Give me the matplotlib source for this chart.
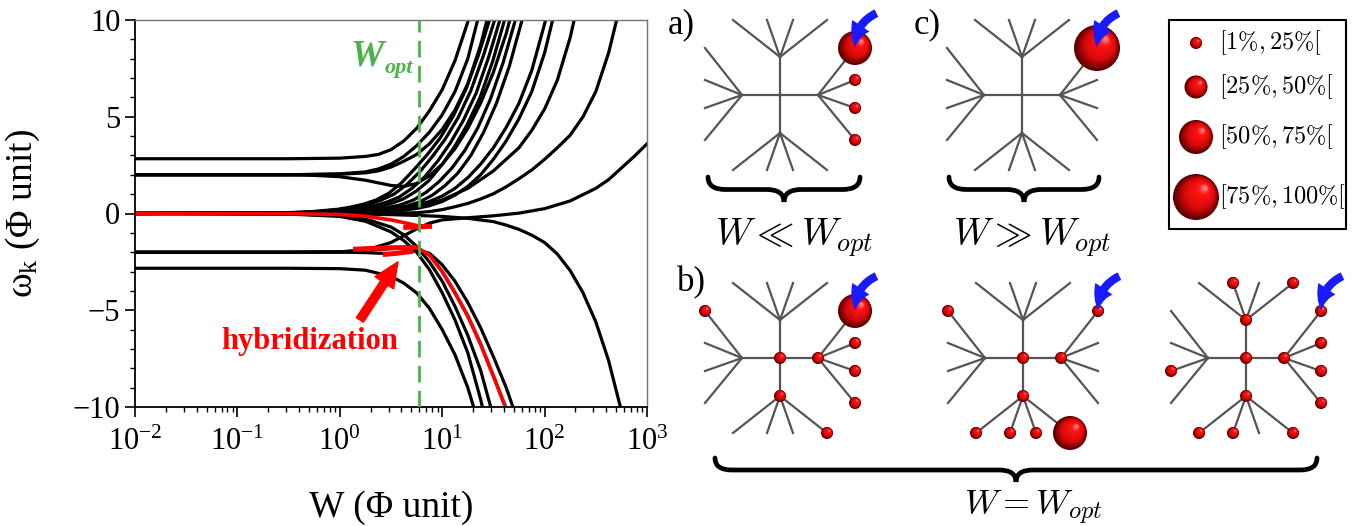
import numpy as np
import matplotlib.pyplot as plt
from matplotlib.patches import Circle, Rectangle, FancyArrowPatch, PathPatch
from matplotlib.path import Path
from matplotlib.ticker import MultipleLocator, LogLocator

plt.rcParams['font.family'] = 'serif'
plt.rcParams['font.serif'] = ['Liberation Serif']
plt.rcParams['mathtext.fontset'] = 'custom'
plt.rcParams['mathtext.rm'] = 'Liberation Serif'
plt.rcParams['mathtext.it'] = 'Liberation Serif:italic'
plt.rcParams['mathtext.bf'] = 'Liberation Serif:bold'

# eigenvalue branches: x = log10(W), y = omega_k
lw_u1 = [-2, -0.5, 0, 0.25, 0.375, 0.5, 0.625, 0.75, 0.875, 1.0, 1.125, 1.25, 1.375]
om_u1 = [2.83, 2.83, 2.86, 2.95, 3.05, 3.3, 3.75, 4.4, 5.3, 6.4, 7.9, 9.9, 12.5]
lw_u2 = [-2, -0.5, 0, 0.25, 0.375, 0.5, 0.625, 0.75, 0.875, 1.0, 1.125, 1.25, 1.375]
om_u2 = [2, 2, 2.05, 2.15, 2.3, 2.55, 2.95, 3.5, 4.2, 5.1, 6.3, 8.0, 10.6]
lw_u3 = [-2, -0.5, 0, 0.25, 0.375, 0.5, 0.625, 0.75, 0.875, 1.0, 1.125, 1.25, 1.375, 1.5]
om_u3 = [2, 2, 2.03, 2.1, 2.2, 2.4, 2.7, 3.05, 3.6, 4.35, 5.35, 6.7, 8.7, 11.3]
lw_u4 = [-2, -0.52, -0.27, -0.02, 0.105, 0.23, 0.355, 0.48, 0.605, 0.73, 0.855, 0.98, 1.105, 1.23, 1.355, 1.48, 1.605]
om_u4 = [0, 0.04, 0.1, 0.22, 0.33, 0.48, 0.7, 1.05, 1.6, 2.3, 3.05, 3.9, 5.0, 6.4, 8.2, 10.3, 13]
lw_u5 = [-2, -0.47, -0.22, 0.03, 0.155, 0.28, 0.405, 0.53, 0.655, 0.78, 0.905, 1.03, 1.155, 1.28, 1.405, 1.53, 1.655]
om_u5 = [0, 0.04, 0.1, 0.22, 0.33, 0.48, 0.7, 1.0, 1.5, 2.15, 2.95, 3.85, 4.95, 6.35, 8.2, 10.3, 13]
lw_u6 = [-2, -0.42, -0.17, 0.08, 0.205, 0.33, 0.455, 0.58, 0.705, 0.83, 0.955, 1.08, 1.205, 1.33, 1.455, 1.58, 1.705]
om_u6 = [0, 0.03, 0.08, 0.18, 0.27, 0.4, 0.58, 0.85, 1.3, 1.9, 2.7, 3.65, 4.8, 6.2, 8.1, 10.3, 13]
lw_u7 = [-2, -0.38, -0.13, 0.12, 0.245, 0.37, 0.495, 0.62, 0.745, 0.87, 0.995, 1.12, 1.245, 1.37, 1.495, 1.62, 1.745]
om_u7 = [0, 0.03, 0.07, 0.15, 0.22, 0.33, 0.5, 0.75, 1.15, 1.7, 2.5, 3.45, 4.6, 6.0, 7.9, 10.2, 13]
lw_u8 = [-2, -0.5, -0.25, 0, 0.25, 0.5, 0.625, 0.75, 0.875, 1.0, 1.125, 1.25, 1.375, 1.5, 1.625, 1.75]
om_u8 = [2, 2, 1.97, 1.9, 1.72, 1.45, 1.4, 1.55, 1.95, 2.55, 3.35, 4.4, 5.7, 7.3, 9.3, 11.8]
lw_u9 = [-2, -0.28, 0, 0.22, 0.345, 0.47, 0.595, 0.72, 0.845, 0.97, 1.095, 1.22, 1.345, 1.47, 1.595, 1.72, 1.845]
om_u9 = [0, 0.02, 0.06, 0.13, 0.2, 0.3, 0.45, 0.7, 1.1, 1.65, 2.35, 3.25, 4.4, 5.9, 7.8, 10.1, 12.8]
lw_u10 = [-2, -0.22, 0.03, 0.28, 0.405, 0.53, 0.655, 0.78, 0.905, 1.03, 1.155, 1.28, 1.405, 1.53, 1.655, 1.78, 1.905]
om_u10 = [0, 0.02, 0.05, 0.1, 0.16, 0.25, 0.38, 0.6, 0.95, 1.45, 2.1, 3.0, 4.2, 5.7, 7.6, 10.0, 12.8]
lw_u11 = [-2, 0, 0.25, 0.5, 0.625, 0.75, 0.875, 1.0, 1.125, 1.25, 1.375, 1.5, 1.625, 1.75, 1.875, 2.0, 2.125]
om_u11 = [0, 0.03, 0.08, 0.2, 0.3, 0.42, 0.62, 0.9, 1.3, 1.85, 2.55, 3.4, 4.45, 5.7, 7.4, 9.8, 12.5]
lw_u12 = [-2, 0, 0.25, 0.5, 0.625, 0.75, 0.875, 1.0, 1.125, 1.25, 1.375, 1.5, 1.625, 1.75, 1.875, 2.0, 2.125]
om_u12 = [0, 0.02, 0.05, 0.12, 0.18, 0.26, 0.4, 0.62, 0.95, 1.4, 2.0, 2.8, 3.75, 4.9, 6.3, 8.3, 11.0]
lw_u13 = [-2, 0, 0.25, 0.5, 0.75, 1.0, 1.25, 1.5, 1.75, 1.875, 2.0, 2.125, 2.25, 2.375]
om_u13 = [0, 0.02, 0.05, 0.12, 0.3, 0.7, 1.3, 2.2, 3.4, 4.3, 5.4, 6.9, 9.1, 12]
lw_uf = [-2, 0, 0.5, 0.75, 0.875, 1.0, 1.125, 1.25, 1.375, 1.5, 1.625, 1.75, 1.875, 2.0, 2.125, 2.25, 2.375, 2.5, 2.625, 2.75]
om_uf = [0, 0, 0.02, 0.04, 0.1, 0.2, 0.35, 0.52, 0.75, 1.02, 1.38, 1.8, 2.25, 2.8, 3.4, 4.05, 5.0, 6.3, 8.3, 11.0]
lw_u14 = [-2, -0.5, 0, 0.25, 0.5, 0.625, 0.75, 0.875, 1.0, 1.25, 1.5, 1.75, 2.0, 2.25, 2.5, 2.625, 2.75, 2.875, 3.0]
om_u14 = [-2, -2, -1.98, -1.9, -1.5, -1.15, -0.8, -0.5, -0.33, -0.22, -0.12, 0.02, 0.25, 0.65, 1.3, 1.75, 2.35, 2.95, 3.6]

lw_d1 = [-2, -0.5, 0, 0.25, 0.5, 0.625, 0.75, 0.875, 1.0, 1.125, 1.25, 1.375]
om_d1 = [-2.83, -2.83, -2.85, -2.93, -3.25, -3.6, -4.1, -4.9, -6.0, -7.3, -9.0, -11.2]
lw_d2 = [-2, -0.5, 0, 0.25, 0.5, 0.625, 0.75, 0.875, 1.0, 1.125, 1.25, 1.375, 1.5]
om_d2 = [0, -0.03, -0.15, -0.4, -0.95, -1.4, -2.0, -2.9, -4.1, -5.5, -7.2, -9.6, -12.5]
lw_d3 = [-2, -0.5, 0, 0.25, 0.5, 0.625, 0.75, 0.875, 1.0, 1.125, 1.25, 1.375, 1.5]
om_d3 = [0, -0.02, -0.1, -0.28, -0.7, -1.1, -1.7, -2.5, -3.5, -4.8, -6.3, -8.1, -10.5]
lw_d4 = [-2, -0.5, 0, 0.25, 0.5, 0.625, 0.75, 0.875, 1.0, 1.125, 1.25, 1.375, 1.5, 1.625, 1.75]
om_d4 = [-2, -2, -1.98, -1.9, -1.82, -1.77, -1.75, -2.15, -3.0, -4.1, -5.3, -6.75, -8.4, -10.1, -12]
lw_d5 = [-2, -0.5, 0, 0.25, 0.5, 0.625, 0.75, 0.875, 1.0, 1.125, 1.25, 1.375, 1.5, 1.625, 1.75]
om_d5 = [-2, -2, -2.0, -2.02, -2.08, -2.02, -1.9, -2.05, -2.65, -3.5, -4.6, -5.9, -7.4, -9.0, -10.9]
lw_d6 = [-2, 0, 0.5, 0.75, 1.0, 1.25, 1.5, 1.625, 1.75, 1.875, 2.0, 2.125, 2.25, 2.375, 2.5, 2.625, 2.75]
om_d6 = [0, -0.02, -0.06, -0.1, -0.15, -0.25, -0.42, -0.6, -0.82, -1.12, -1.5, -2.1, -2.95, -4.1, -5.6, -7.6, -10.2]

# red (hybridizing) branches
lw_r_top = [-2, -1, -0.5, 0, 0.25, 0.5, 0.625, 0.75, 0.88]
om_r_top = [0, 0, -0.01, -0.05, -0.14, -0.33, -0.47, -0.62, -0.66]
lw_r_low = [0.75, 0.875, 1.0, 1.125, 1.25, 1.375, 1.5, 1.625, 1.75]
om_r_low = [-1.75, -2.15, -3.0, -4.1, -5.3, -6.75, -8.4, -10.1, -12]
lw_bar1 = [0.62, 0.9]
om_bar1 = [-0.72, -0.66]
lw_bar2 = [0.13, 0.25, 0.5, 0.75]
om_bar2 = [-1.85, -1.82, -1.77, -1.75]
lw_bar3 = [0.42, 0.55, 0.72]
om_bar3 = [-2.12, -2.06, -1.95]

w_opt = 6.0

black_curves = [(lw_u1, om_u1), (lw_u2, om_u2), (lw_u3, om_u3), (lw_u4, om_u4), (lw_u5, om_u5),
                (lw_u6, om_u6), (lw_u7, om_u7), (lw_u8, om_u8), (lw_u9, om_u9), (lw_u10, om_u10),
                (lw_u11, om_u11), (lw_u12, om_u12), (lw_u13, om_u13), (lw_uf, om_uf), (lw_u14, om_u14),
                (lw_d1, om_d1), (lw_d2, om_d2), (lw_d3, om_d3), (lw_d4, om_d4), (lw_d5, om_d5), (lw_d6, om_d6)]

# sphere weights on the tree sites (size class 1..4 = legend bins)
a_nodes = ['R1', 'R2', 'R3', 'R4']
a_cls = [3, 1, 1, 1]
c_nodes = ['R1']
c_cls = [4]
b1_nodes = ['C', 'R', 'B', 'L1', 'R1', 'R2', 'R3', 'R4', 'B4']
b1_cls = [1, 1, 1, 1, 3, 1, 1, 1, 1]
b2_nodes = ['C', 'R', 'B', 'L1', 'R1', 'B1', 'B2', 'B3', 'B4']
b2_cls = [1, 1, 1, 1, 1, 1, 1, 1, 3]
b3_nodes = ['C', 'R', 'B', 'T', 'T2', 'T4', 'L3', 'R1', 'R2', 'R3', 'R4', 'B1', 'B2', 'B4']
b3_cls = [1] * 14
legend_labels = [r'$[1\%, 25\%[$', r'$[25\%, 50\%[$', r'$[50\%, 75\%[$', r'$[75\%, 100\%[$']

fig = plt.figure(figsize=(13.56, 5.26), dpi=100)

# ---------------- left panel ----------------
ax = fig.add_axes([135 / 1356, 119 / 526, 512 / 1356, 387 / 526])
for x, y in black_curves:
    ax.plot(10 ** np.array(x), y, color='k', lw=2.3)
ax.plot(10 ** np.array(lw_r_top), om_r_top, color='red', lw=2.6)
ax.plot(10 ** np.array(lw_r_low), om_r_low, color='red', lw=2.6)
for x, y in [(lw_bar1, om_bar1), (lw_bar2, om_bar2), (lw_bar3, om_bar3)]:
    ax.plot(10 ** np.array(x), y, color='red', lw=3.6, solid_capstyle='butt')
ax.axvline(w_opt, color='#4cb34c', lw=2, dashes=(6, 3), zorder=5)

ax.set_xscale('log')
ax.set_xlim(1e-2, 1e3)
ax.set_ylim(-10, 10)
ax.yaxis.set_major_locator(MultipleLocator(5))
ax.yaxis.set_minor_locator(MultipleLocator(1))
ax.xaxis.set_minor_locator(LogLocator(base=10, subs=np.arange(2, 10), numticks=20))
ax.tick_params(which='both', direction='out', top=False, right=False, labelsize=22)
ax.tick_params(which='major', length=7, width=1.2)
ax.tick_params(which='minor', length=3.5, width=1.0)
ax.tick_params(axis='x', pad=8)
for s in ['top', 'right']:
    ax.spines[s].set_color('0.45')
    ax.spines[s].set_linewidth(1.0)
for s in ['left', 'bottom']:
    ax.spines[s].set_linewidth(1.3)

ax.set_xlabel('W (Φ unit)', fontsize=27, fontfamily='Liberation Serif')
ax.xaxis.set_label_coords(0.5, -0.215)
ax.set_ylabel(r'ω$_\mathrm{k}$ (Φ unit)', fontsize=27, fontfamily='Liberation Serif')
ax.yaxis.set_label_coords(-0.182, 0.5)

ax.text(2.66, 7.67, 'W', color='#4cb34c', fontsize=27, weight='bold', style='italic', ha='right', va='baseline')
ax.text(2.72, 7.25, 'opt', color='#4cb34c', fontsize=16, weight='bold', style='italic', ha='left', va='baseline')
ax.text(0.506, -6.62, 'hybridization', color='red', fontsize=22, weight='bold', ha='center', va='center')
ax.annotate('', xy=(3.7, -2.5), xytext=(1.57, -5.5),
            arrowprops=dict(arrowstyle='simple,head_length=0.9,head_width=0.8,tail_width=0.3',
                            color='red', mutation_scale=20, shrinkA=0, shrinkB=0))

# ---------------- right panels (pixel coordinates) ----------------
ov = fig.add_axes([0, 0, 1, 1])
ov.set_xlim(0, 1356)
ov.set_ylim(526, 0)
ov.axis('off')
ov.patch.set_alpha(0)

radius = {1: 6, 2: 11.5, 3: 17, 4: 23}


def node_positions(cx, cy):
    pos = {'C': (cx, cy), 'T': (cx, cy - 38), 'B': (cx, cy + 38), 'L': (cx - 38, cy), 'R': (cx + 38, cy)}
    for i, d in enumerate([-47, -13, 13, 47]):
        pos['T%d' % (i + 1)] = (cx + d, cy - 75)
        pos['B%d' % (i + 1)] = (cx + d, cy + 75)
    for i, d in enumerate([-47, -15, 13, 45]):
        pos['L%d' % (i + 1)] = (cx - 75, cy + d)
        pos['R%d' % (i + 1)] = (cx + 75, cy + d)
    return pos


def sphere(x, y, r):
    n = 18
    for k in range(n):
        f = k / (n - 1)
        col = (np.interp(f, [0, 0.35, 0.8, 1], [0.35, 0.85, 1.0, 1.0]),
               np.interp(f, [0, 0.8, 1], [0.0, 0.08, 0.5]),
               np.interp(f, [0, 0.8, 1], [0.0, 0.08, 0.5]))
        ov.add_patch(Circle((x + 0.4 * r * f, y - 0.4 * r * f), r * (1 - 0.92 * f), color=col, lw=0, zorder=4))


def tree(cx, cy, nodes, cls):
    pos = node_positions(cx, cy)
    for b in 'TBLR':
        ov.plot([cx, pos[b][0]], [cy, pos[b][1]], color='#555555', lw=1.6, zorder=2)
        for i in range(1, 5):
            leaf = pos['%s%d' % (b, i)]
            ov.plot([pos[b][0], leaf[0]], [pos[b][1], leaf[1]], color='#555555', lw=1.6, zorder=2)
    for nd, c in zip(nodes, cls):
        sphere(pos[nd][0], pos[nd][1], radius[c])
    tip = pos['R1']
    ov.add_patch(FancyArrowPatch((tip[0] + 24, tip[1] - 36), (tip[0], tip[1] + 2),
                                 arrowstyle='simple,head_length=0.8,head_width=0.75,tail_width=0.3',
                                 connectionstyle='arc3,rad=0.35', mutation_scale=20,
                                 color='#1a1aff', lw=0, zorder=6))


def brace(x0, x1, ytop, ybot):
    xm = (x0 + x1) / 2
    ym = (ytop + ybot) / 2
    q = (ybot - ytop) * 0.7
    verts = [(x0, ytop), (x0, ym), (x0 + q, ym), (xm - q, ym), (xm, ym), (xm, ybot),
             (xm, ym), (xm + q, ym), (x1 - q, ym), (x1, ym), (x1, ytop)]
    codes = [Path.MOVETO, Path.CURVE3, Path.CURVE3, Path.LINETO, Path.CURVE3, Path.CURVE3,
             Path.CURVE3, Path.CURVE3, Path.LINETO, Path.CURVE3, Path.CURVE3]
    ov.add_patch(PathPatch(Path(verts, codes), fill=False, lw=3.4, edgecolor='k', capstyle='round'))


tree(780, 95, a_nodes, a_cls)
tree(1022, 95, c_nodes, c_cls)
tree(780, 358, b1_nodes, b1_cls)
tree(1023, 358, b2_nodes, b2_cls)
tree(1246, 358, b3_nodes, b3_cls)

brace(708, 860, 177, 202)
brace(949, 1099, 177, 202)
brace(715, 1317, 458, 482)

ov.text(668, 33, 'a)', fontsize=25, ha='left', va='baseline')
ov.text(914, 33, 'c)', fontsize=25, ha='left', va='baseline')
ov.text(677, 291, 'b)', fontsize=25, ha='left', va='baseline')
ov.text(794, 246, r'$W \ll W_{opt}$', fontsize=27, ha='center', va='baseline', math_fontfamily='cm')
ov.text(1032, 246, r'$W \gg W_{opt}$', fontsize=27, ha='center', va='baseline', math_fontfamily='cm')
ov.text(1033, 514, r'$W = W_{opt}$', fontsize=25, ha='center', va='baseline', math_fontfamily='cm')

# legend box
ov.add_patch(Rectangle((1169, 20), 177, 209, fill=False, edgecolor='k', lw=1.5))
for k, (lab, yy) in enumerate(zip(legend_labels, [43, 87, 137, 197])):
    sphere(1196, yy, radius[k + 1])
    ov.text(1219, yy, lab, fontsize=17.5, ha='left', va='center', math_fontfamily='cm')

fig.savefig('out.png', dpi=100)
